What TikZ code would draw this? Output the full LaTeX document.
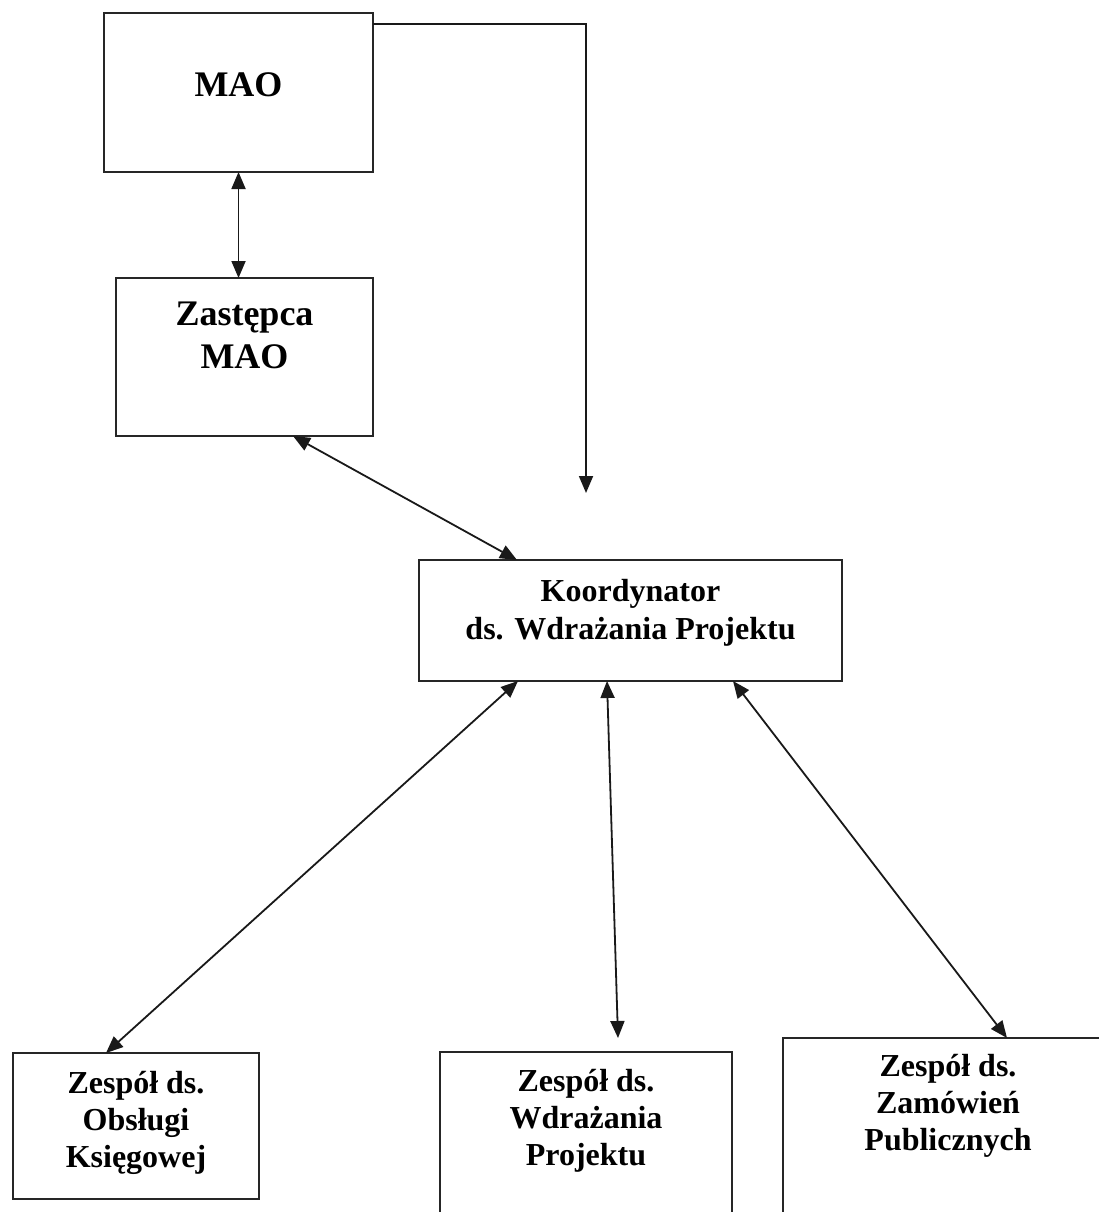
\documentclass[tikz,border=0pt]{standalone}
\usepackage{fontspec}
\setmainfont{Liberation Serif}
\usetikzlibrary{arrows.meta,calc}
\begin{document}
\begin{tikzpicture}[x=1pt,y=-1pt,
  box/.style={draw=black!85,line width=2pt,inner sep=0pt,outer sep=0pt,rectangle},
  big/.style={font=\fontsize{36}{43}\selectfont\bfseries,align=center,anchor=base,inner sep=0pt},
  mid/.style={font=\fontsize{32}{38}\selectfont\bfseries,align=center,anchor=base,inner sep=0pt},
  small/.style={font=\fontsize{32}{37}\selectfont\bfseries,align=center,anchor=base,inner sep=0pt},
  link/.style={line width=1.8pt,black!90},
  both/.style={link,{Triangle[length=17pt,width=14pt]}-{Triangle[length=17pt,width=14pt]}},
  one/.style={link,-{Triangle[length=17pt,width=14pt]}}]
\useasboundingbox[fill=white] (0,0) rectangle (1099,1212);
% boxes
\node[box,minimum width=269pt,minimum height=159pt] (mao) at (238.5,92.5) {};
\node[box,minimum width=257pt,minimum height=158pt] (zast) at (244.5,357) {};
\node[box,minimum width=423pt,minimum height=121pt] (koord) at (630.5,620.5) {};
\node[box,minimum width=246pt,minimum height=146pt] (zob) at (136,1126) {};
\node[box,minimum width=292pt,minimum height=176pt] (zwp) at (586,1140) {};
\node[box,minimum width=332pt,minimum height=190pt] (zza) at (949,1133) {};
% texts (anchor base = baseline of last line)
\node[big] (tmao) at (238.5,97) {MAO};
\node[big] (tzast) at (244.5,368) {Zastępca\\MAO};
\node[mid] (tkoord) at (630.5,639) {Koordynator\\ds. Wdrażania Projektu};
\node[small] (tzob) at (136,1167) {Zespół ds.\\Obsługi\\Księgowej};
\node[small] (tzwp) at (586,1165) {Zespół ds.\\Wdrażania\\Projektu};
\node[small] (tzza) at (948,1150) {Zespół ds.\\Zamówień\\Publicznych};
% connectors
\coordinate (mtip) at (586,493);
\draw[one] ($(mao.north east)+(0,11)$) -| (mtip);
\draw[both] (mao.south) -- (mao.south |- zast.north);
\draw[both] ($(zast.south)+(48.5,0)$) -- ($(koord.north west)+(98,0)$);
\draw[both] ($(koord.south west)+(99,0)$) -- ($(zob.north west)+(93,0)$);
\draw[both] ($(koord.south west)+(188,0)$) -- ($(zwp.north)+(32,-14)$);
\draw[both] ($(koord.south west)+(314,0)$) -- ($(zza.north west)+(224,0)$);
\end{tikzpicture}
\end{document}
